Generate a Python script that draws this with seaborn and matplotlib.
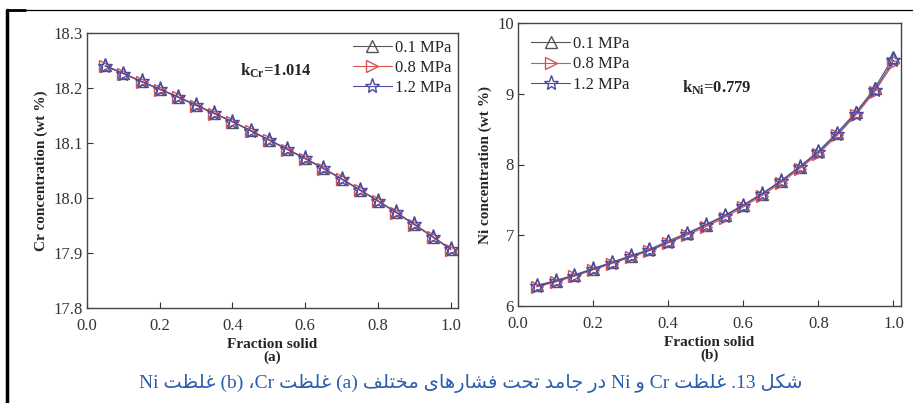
import numpy as np
import pandas as pd
import matplotlib
matplotlib.use("Agg")
import matplotlib.pyplot as plt
from matplotlib.lines import Line2D
import seaborn as sns

# ---------------- data ----------------
fraction_solid = [0.05, 0.10, 0.15, 0.20, 0.25, 0.30, 0.35, 0.40, 0.45, 0.50,
                  0.55, 0.60, 0.65, 0.70, 0.75, 0.80, 0.85, 0.90, 0.95, 1.00]
pressures = ["0.1 MPa", "0.8 MPa", "1.2 MPa"]

cr_01 = [18.241, 18.227, 18.212, 18.198, 18.184, 18.169, 18.154, 18.139, 18.123, 18.106,
         18.089, 18.072, 18.054, 18.035, 18.015, 17.995, 17.974, 17.952, 17.930, 17.907]
cr_08 = [18.240, 18.226, 18.211, 18.197, 18.183, 18.168, 18.153, 18.138, 18.122, 18.105,
         18.088, 18.071, 18.053, 18.034, 18.014, 17.994, 17.973, 17.951, 17.929, 17.906]
cr_12 = [18.240, 18.226, 18.212, 18.198, 18.184, 18.169, 18.154, 18.139, 18.122, 18.106,
         18.089, 18.072, 18.054, 18.035, 18.015, 17.995, 17.974, 17.952, 17.930, 17.907]

ni_01 = [6.29, 6.36, 6.44, 6.53, 6.62, 6.71, 6.80, 6.92, 7.03, 7.15,
         7.28, 7.43, 7.59, 7.77, 7.97, 8.19, 8.45, 8.74, 9.08, 9.52]
ni_08 = [6.27, 6.34, 6.42, 6.51, 6.60, 6.69, 6.78, 6.89, 7.00, 7.12,
         7.25, 7.40, 7.56, 7.74, 7.94, 8.15, 8.41, 8.70, 9.03, 9.43]
ni_12 = [6.28, 6.35, 6.43, 6.52, 6.61, 6.70, 6.79, 6.90, 7.02, 7.14,
         7.27, 7.42, 7.58, 7.76, 7.96, 8.17, 8.43, 8.72, 9.05, 9.47]

cr_ticks = [17.8, 17.9, 18.0, 18.1, 18.2, 18.3]
ni_ticks = [6, 7, 8, 9, 10]
x_ticks = [0.0, 0.2, 0.4, 0.6, 0.8, 1.0]

caption = "شکل 13. غلظت Cr و Ni در جامد تحت فشارهای مختلف (a) غلظت Cr، (b) غلظت Ni"

# ---------------- minimal Persian shaping (matplotlib has no complex text layout) ----------------
FORMS = {  # isolated, final, initial, medial
    "ا": ("\uFE8D", "\uFE8E", None, None),
    "ت": ("\uFE95", "\uFE96", "\uFE97", "\uFE98"),
    "ج": ("\uFE9D", "\uFE9E", "\uFE9F", "\uFEA0"),
    "ح": ("\uFEA1", "\uFEA2", "\uFEA3", "\uFEA4"),
    "خ": ("\uFEA5", "\uFEA6", "\uFEA7", "\uFEA8"),
    "د": ("\uFEA9", "\uFEAA", None, None),
    "ر": ("\uFEAD", "\uFEAE", None, None),
    "ش": ("\uFEB5", "\uFEB6", "\uFEB7", "\uFEB8"),
    "ظ": ("\uFEC5", "\uFEC6", "\uFEC7", "\uFEC8"),
    "غ": ("\uFECD", "\uFECE", "\uFECF", "\uFED0"),
    "ف": ("\uFED1", "\uFED2", "\uFED3", "\uFED4"),
    "ل": ("\uFEDD", "\uFEDE", "\uFEDF", "\uFEE0"),
    "م": ("\uFEE1", "\uFEE2", "\uFEE3", "\uFEE4"),
    "ن": ("\uFEE5", "\uFEE6", "\uFEE7", "\uFEE8"),
    "ه": ("\uFEE9", "\uFEEA", "\uFEEB", "\uFEEC"),
    "و": ("\uFEED", "\uFEEE", None, None),
    "ی": ("\uFBFC", "\uFBFD", "\uFBFE", "\uFBFF"),
    "ک": ("\uFB8E", "\uFB8F", "\uFB90", "\uFB91"),
}


def shape_word(w):
    out = []
    for i, ch in enumerate(w):
        if ch not in FORMS:
            out.append(ch)
            continue
        prev = w[i - 1] if i > 0 else None
        nxt = w[i + 1] if i + 1 < len(w) else None
        join_prev = prev in FORMS and FORMS[prev][2] is not None
        join_next = nxt in FORMS and FORMS[ch][2] is not None
        iso, fin, ini, med = FORMS[ch]
        if join_prev and join_next:
            out.append(med)
        elif join_prev:
            out.append(fin)
        elif join_next:
            out.append(ini)
        else:
            out.append(iso)
    return "".join(out)


def visual(text):
    toks = text.split(" ")
    vis = []
    for t in toks:
        if any(c in FORMS for c in t):
            vis.append(shape_word(t)[::-1])
        elif t.endswith("،"):
            vis.append("،" + t[:-1])
        elif t.endswith(".") and t[:-1].isdigit():
            vis.append("." + t[:-1])
        else:
            vis.append(t)
    return " ".join(vis[::-1])


# ---------------- plotting ----------------
sns.set_theme(style="ticks")
plt.rcParams["font.family"] = ["Liberation Serif", "DejaVu Serif"]
plt.rcParams["mathtext.fontset"] = "custom"
plt.rcParams["mathtext.rm"] = "Liberation Serif"
plt.rcParams["mathtext.bf"] = "Liberation Serif:bold"

fig = plt.figure(figsize=(9.17, 4.03), dpi=100)
ax1 = fig.add_axes([87 / 917, 1 - 308 / 403, (458 - 87) / 917, (308 - 33) / 403])
ax2 = fig.add_axes([518 / 917, 1 - 306 / 403, (901 - 518) / 917, (306 - 23) / 403])

styles = {
    "0.1 MPa": dict(color="#555555", marker="^", ms=9),
    "0.8 MPa": dict(color="#d9534f", marker=">", ms=9),
    "1.2 MPa": dict(color="#4a4aa8", marker="*", ms=11),
}

cr_df = pd.DataFrame({
    "fs": fraction_solid * 3,
    "val": cr_01 + cr_08 + cr_12,
    "p": [p for p in pressures for _ in fraction_solid],
})
ni_df = pd.DataFrame({
    "fs": fraction_solid * 3,
    "val": ni_01 + ni_08 + ni_12,
    "p": [p for p in pressures for _ in fraction_solid],
})

for ax, df in [(ax1, cr_df), (ax2, ni_df)]:
    for p in pressures:
        st = styles[p]
        sns.lineplot(data=df[df["p"] == p], x="fs", y="val", ax=ax,
                     color=st["color"], lw=0.8, marker=st["marker"], ms=st["ms"],
                     markerfacecolor="none", markeredgecolor=st["color"],
                     markeredgewidth=1.0, legend=False, estimator=None)

handles = [Line2D([], [], color=styles[p]["color"], lw=0.8, marker=styles[p]["marker"],
                  ms=styles[p]["ms"], markerfacecolor="none",
                  markeredgecolor=styles[p]["color"], markeredgewidth=1.0) for p in pressures]

ax1.set_xlim(0, 1.02)
ax1.set_ylim(17.8, 18.3)
ax1.set_yticks(cr_ticks)
ax1.set_yticklabels([f"{v:.1f}" for v in cr_ticks])
ax2.set_xlim(0, 1.02)
ax2.set_ylim(6, 10)
ax2.set_yticks(ni_ticks)

for ax, lab, sub in [(ax1, "Cr concentration (wt %)", "(a)"),
                     (ax2, "Ni concentration (wt %)", "(b)")]:
    ax.set_xticks(x_ticks)
    ax.set_xticklabels([f"{v:.1f}" for v in x_ticks])
    ax.tick_params(direction="in", labelsize=12, length=4, width=0.8, colors="#333333")
    ax.tick_params(axis="x", pad=7)
    ax.tick_params(axis="y", pad=3)
    ax.set_xlabel("Fraction solid\n" + sub, fontsize=11, fontweight="bold", labelpad=3,
                  linespacing=0.95)
    ax.set_ylabel(lab, fontsize=11, fontweight="bold", labelpad=4)
    for s in ax.spines.values():
        s.set_linewidth(1.0)
        s.set_color("#444444")

ax1.legend(handles, pressures, loc="upper right", frameon=False, fontsize=12,
           handlelength=2.3, handletextpad=0.2, borderpad=0.2, labelspacing=0.25,
           borderaxespad=0.2)
ax2.legend(handles, pressures, loc="upper left", frameon=False, fontsize=12,
           handlelength=2.3, handletextpad=0.2, borderpad=0.2, labelspacing=0.25,
           borderaxespad=0.6)

ax1.text(0.52, 18.232, r"$\mathbf{k_{Cr}}$=1.014", fontsize=12, fontweight="bold",
         ha="center", va="center")
ax2.text(0.53, 9.08, r"$\mathbf{k_{Ni}}$=0.779", fontsize=12, fontweight="bold",
         ha="center", va="center")

fig.text(0.513, 0.048, visual(caption), fontsize=14, color="#2a5db0",
         ha="center", va="center", family=["Liberation Serif", "DejaVu Sans"])

# frame lines
fig.add_artist(Line2D([7 / 917, 7 / 917], [0, 1 - 10 / 403], transform=fig.transFigure,
                      color="black", lw=2.5))
fig.add_artist(Line2D([7 / 917, 912 / 917], [1 - 10 / 403, 1 - 10 / 403],
                      transform=fig.transFigure, color="black", lw=0.9))
fig.add_artist(Line2D([7 / 917, 25 / 917], [1 - 10 / 403, 1 - 10 / 403],
                      transform=fig.transFigure, color="black", lw=2.0))

fig.savefig("out.png", dpi=100)
